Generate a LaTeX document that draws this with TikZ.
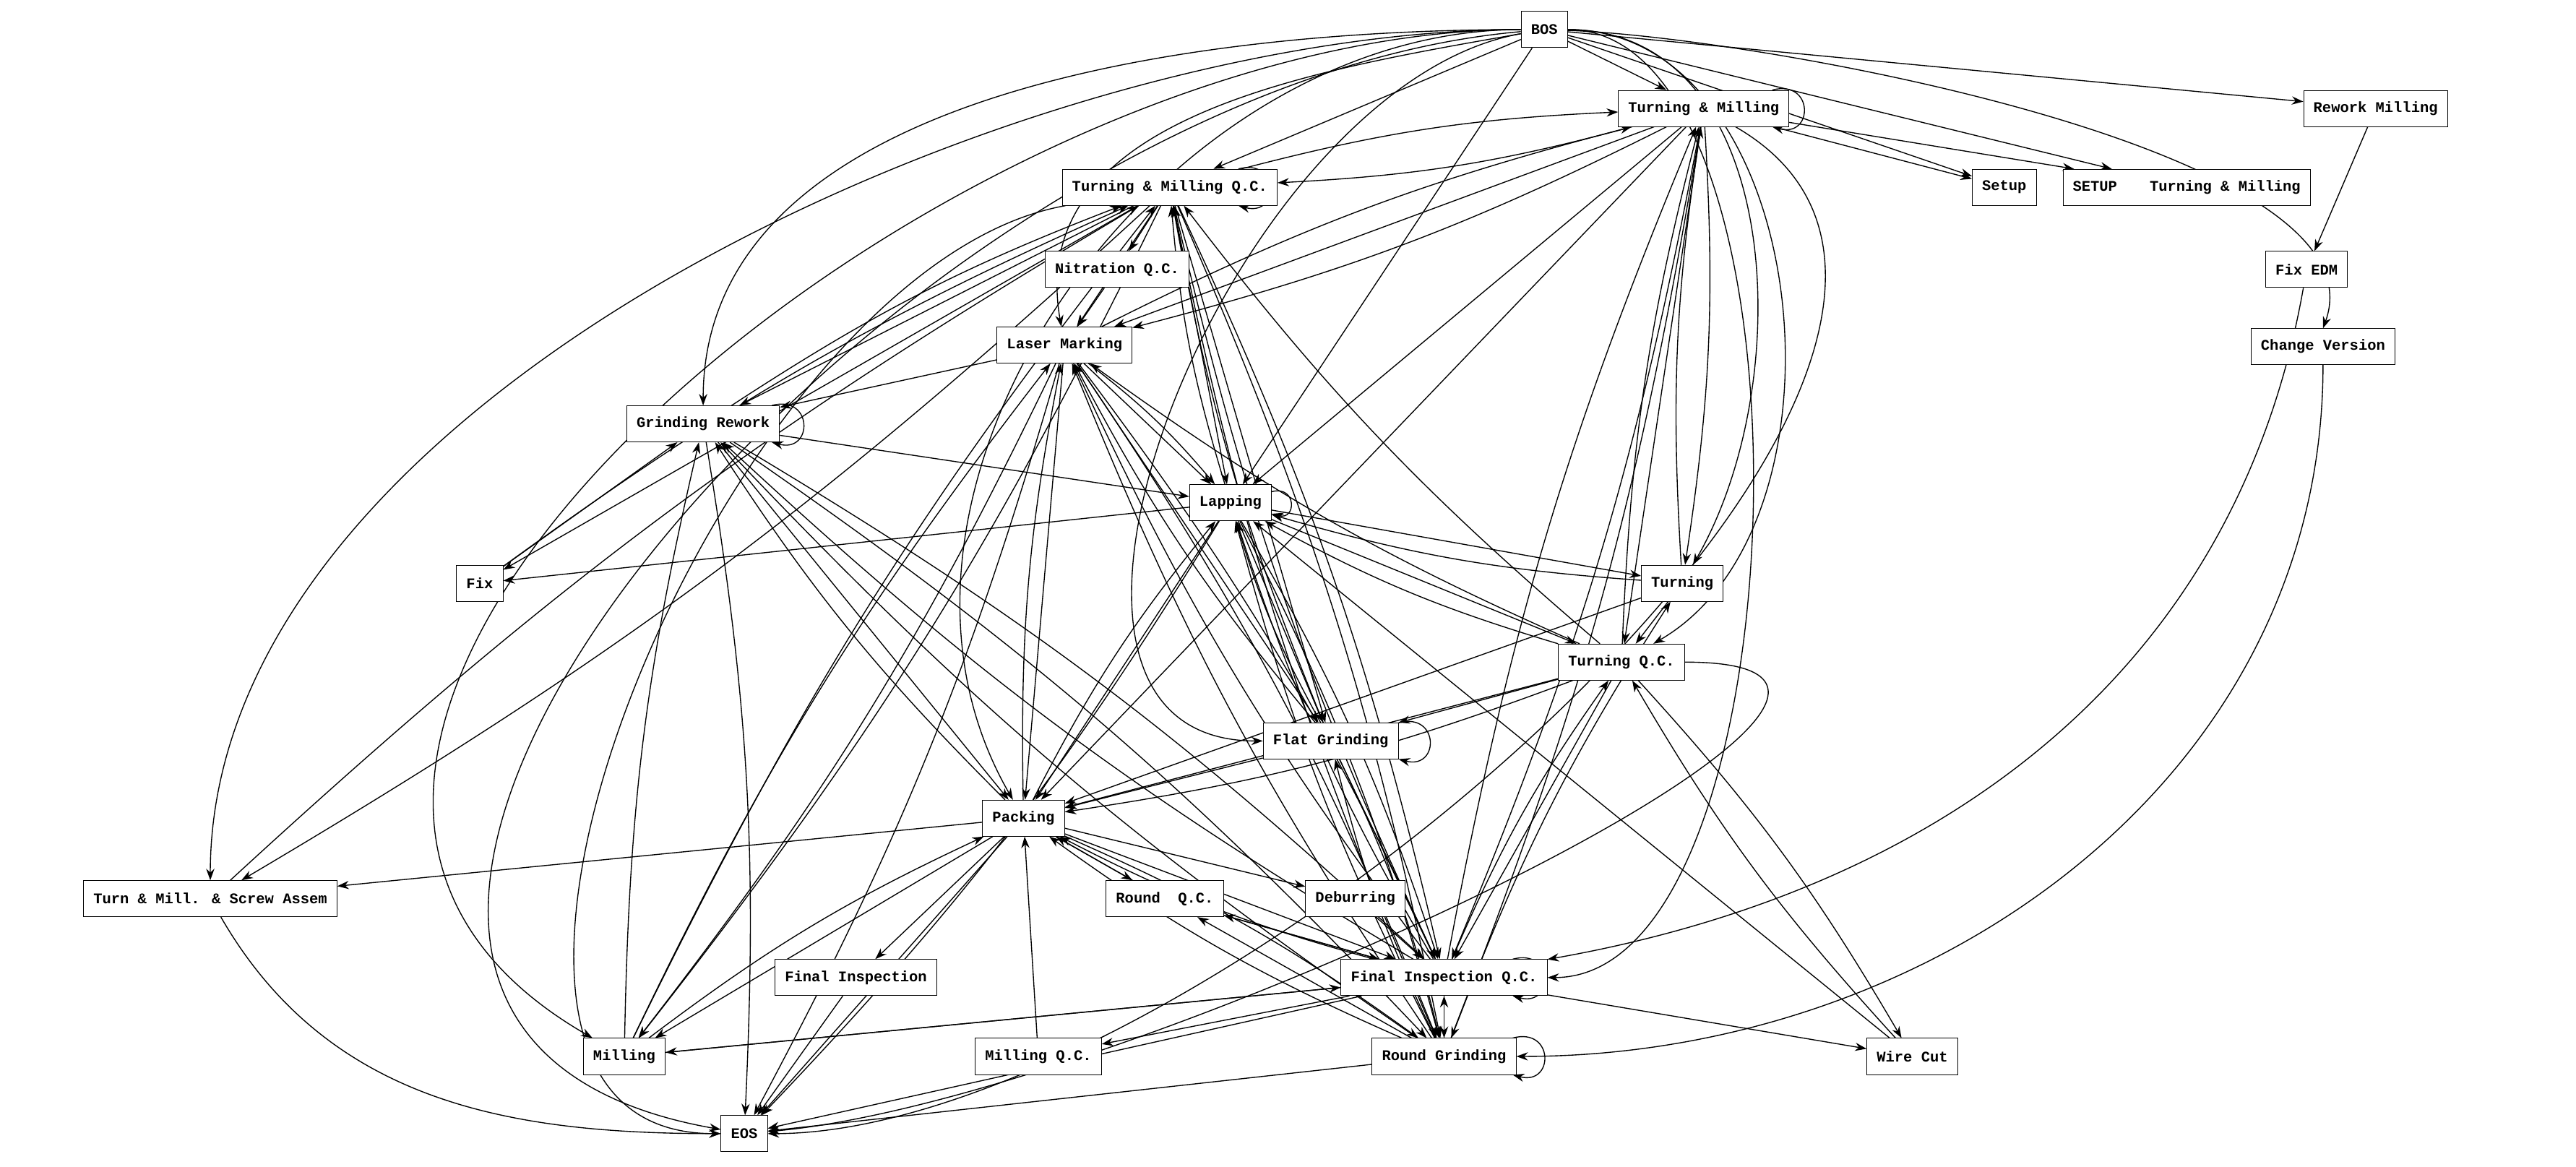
\documentclass[tikz,border=0pt]{standalone}
\usepackage{fontspec}
\setmainfont{Liberation Mono}
\usetikzlibrary{arrows.meta,backgrounds}
\begin{document}
\begin{tikzpicture}[x=1pt,y=-1pt,
  box/.style={draw,fill=white,font=\bfseries\fontsize{9}{10}\selectfont,inner xsep=6pt,minimum height=22pt},
  flow/.style={-{Stealth[length=7pt,width=5pt]},line width=0.6pt},
  self/.style={flow,loop right,min distance=6pt,looseness=3}]
  \useasboundingbox (0,0) rectangle (1568,710);

  % process steps
  \node[box] (bos) at (940,18) {BOS};
  \node[box] (tm) at (1037,66) {Turning \& Milling};
  \node[box] (rwm) at (1446,66) {Rework Milling};
  \node[box] (tmqc) at (712,114) {Turning \& Milling Q.C.};
  \node[box] (setup) at (1220,114) {Setup};
  \node[box] (setuptm) at (1331,114) {SETUP\hspace{2.2em}Turning \& Milling};
  \node[box] (nitr) at (680,164) {Nitration Q.C.};
  \node[box] (fedm) at (1404,164) {Fix EDM};
  \node[box] (laser) at (648,210) {Laser Marking};
  \node[box] (chv) at (1414,211) {Change Version};
  \node[box] (grw) at (428,258) {Grinding Rework};
  \node[box] (lap) at (749,306) {Lapping};
  \node[box] (fix) at (292,355) {Fix};
  \node[box] (turn) at (1024,355) {Turning};
  \node[box] (tqc) at (987,403) {Turning Q.C.};
  \node[box] (flat) at (810,451) {Flat Grinding};
  \node[box] (pack) at (623,498) {Packing};
  \node[box] (screw) at (128,547) {Turn \& Mill. \& Screw Assem};
  \node[box] (rqc) at (709,547) {Round\hspace{0.6em} Q.C.};
  \node[box] (deb) at (825,547) {Deburring};
  \node[box] (finsp) at (521,595) {Final Inspection};
  \node[box] (fiqc) at (879,595) {Final Inspection Q.C.};
  \node[box] (mill) at (380,643) {Milling};
  \node[box] (mqc) at (632,643) {Milling Q.C.};
  \node[box] (rg) at (879,643) {Round Grinding};
  \node[box] (wire) at (1164,643) {Wire Cut};
  \node[box] (eos) at (453,690) {EOS};

  \begin{scope}[on background layer]
  % self loops
  \foreach \n in {tm,tmqc,grw,lap,flat,fiqc,rg}
    \draw[self] (\n) to (\n);

  % straight transitions
  \foreach \a/\b in {bos/tm,bos/tmqc,bos/setup,bos/setuptm,bos/rwm,bos/lap,
      tm/setup,tm/setuptm,tm/lap,tm/laser,tm/tqc,tm/pack,
      tmqc/nitr,tmqc/laser,tmqc/grw,tmqc/lap,tmqc/fix,tmqc/flat,
      rwm/fedm,nitr/laser,laser/grw,laser/lap,laser/pack,laser/flat,
      grw/lap,grw/pack,lap/fix,lap/turn,lap/tqc,lap/flat,lap/pack,
      fix/grw,turn/tqc,turn/pack,tqc/flat,tqc/pack,tqc/fiqc,
      flat/pack,flat/fiqc,pack/screw,pack/rqc,pack/deb,pack/finsp,pack/fiqc,
      pack/mill,pack/eos,rqc/pack,rqc/fiqc,deb/fiqc,finsp/eos,
      fiqc/mill,fiqc/mqc,fiqc/rg,fiqc/rqc,fiqc/wire,fiqc/eos,
      mill/fiqc,mqc/pack,rg/fiqc,rg/eos,rg/rqc,wire/lap}
    \draw[flow] (\a) -- (\b);

  % bent transitions
  \foreach \a/\b in {tm/tmqc,tmqc/tm,laser/tm,tm/laser,lap/tmqc,laser/lap,
      turn/tm,tm/turn,tqc/tm,tqc/tmqc,tqc/laser,tqc/lap,turn/lap,
      flat/tmqc,flat/lap,flat/laser,grw/tmqc,fix/tmqc,pack/lap,pack/laser,
      pack/grw,fiqc/tm,fiqc/tmqc,fiqc/tqc,fiqc/laser,fiqc/lap,fiqc/grw,fiqc/pack,
      rg/tmqc,rg/laser,rg/lap,rg/grw,rg/flat,rg/pack,rg/turn,
      tm/fiqc,tm/rg,tmqc/fiqc,tmqc/rg,laser/fiqc,laser/rg,grw/rg,grw/fiqc,
      lap/fiqc,lap/rg,flat/rg,pack/rg,tqc/wire,wire/tqc,tqc/pack,
      mill/pack,mill/laser,mill/grw,mill/tmqc,laser/mill,grw/eos,laser/eos,
      lap/eos,tmqc/mill,screw/tmqc,tmqc/screw}
    \draw[flow] (\a) to[bend left=6] (\b);

  % long curves from BOS
  \draw[flow] (bos) to[out=180,in=90,looseness=0.9] (grw);
  \draw[flow] (bos) to[out=180,in=90,looseness=0.8] (screw);
  \draw[flow] (bos) to[out=180,in=120,looseness=1] (pack);
  \draw[flow] (bos) to[out=180,in=150,looseness=1.1] (mill);
  \draw[flow] (bos) to[out=185,in=170,looseness=1.2] (eos);
  \draw[flow] (bos) to[out=190,in=180,looseness=1] (flat);
  \draw[flow] (bos) to[out=190,in=100] (laser);
  \draw[flow] (bos) to[out=0,in=60] (turn);
  \draw[flow] (bos) to[out=0,in=30] (tqc);
  \draw[flow] (bos) to[out=-2,in=70,looseness=0.6] (chv.north);
  \draw[flow] (bos) to[out=0,in=0,looseness=0.7] (fiqc);
  \draw[flow] (tm) to[out=-30,in=0,looseness=0.8] (eos);
  \draw[flow] (tmqc) to[out=190,in=180,looseness=0.9] (eos);
  \draw[flow] (tqc) to[out=0,in=5,looseness=0.9] (eos);
  \draw[flow] (fedm) to[out=-100,in=10] (fiqc);
  \draw[flow] (chv) to[out=-90,in=0] (rg);
  \draw[flow] (screw) to[out=-60,in=180] (eos);
  \end{scope}
\end{tikzpicture}
\end{document}
